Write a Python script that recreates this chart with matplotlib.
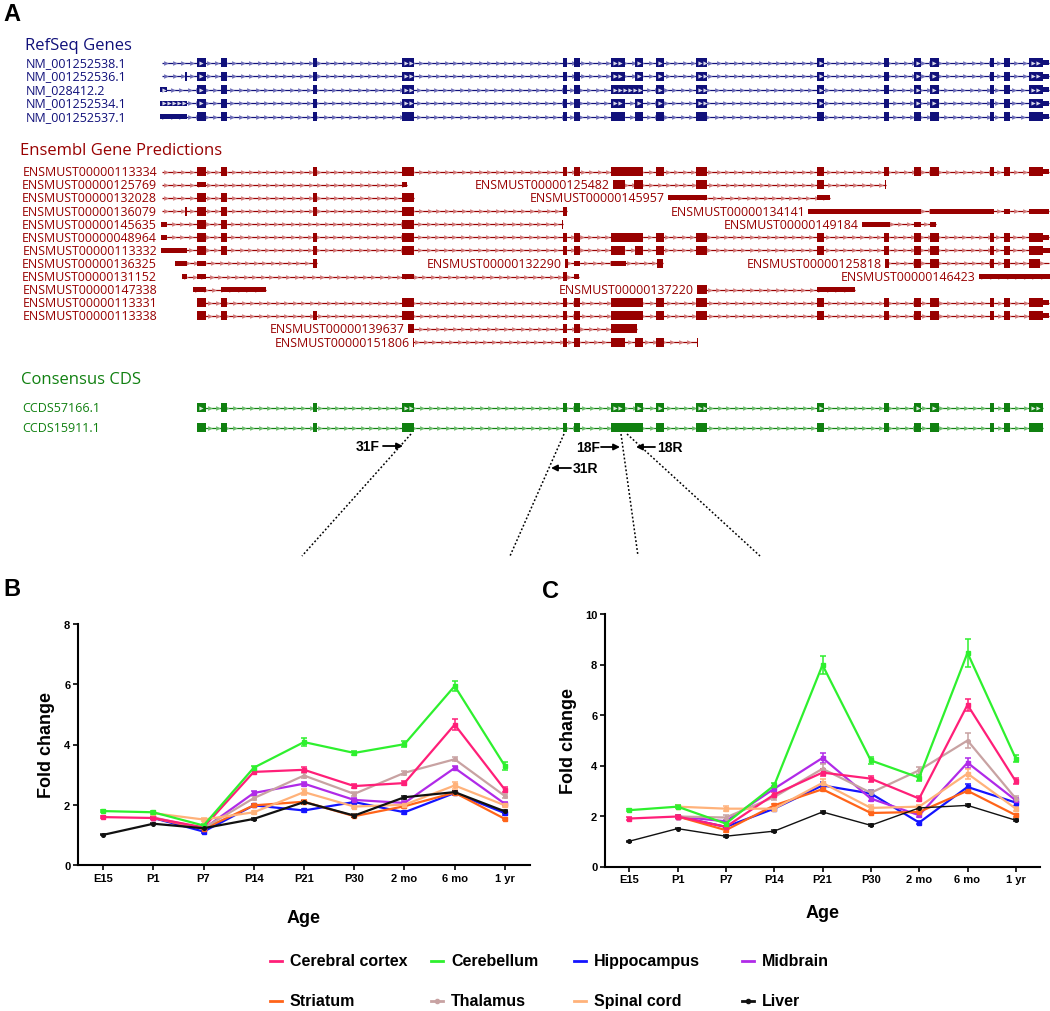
import numpy as np
import matplotlib.pyplot as plt

plt.rcParams['font.family'] = ['Liberation Sans', 'DejaVu Sans']

# ---------------- panel A : genome browser tracks (locus positions in px) ----------------
ex_a = [(197, 206, 'c'), (221, 227, 'c'), (313, 317, 'c'), (402, 414, 'c')]
ex_b = [(563, 567, 'c'), (574, 580, 'c')]
ex_split = [(611, 625, 'c'), (635, 643, 'c')]
ex_join = [(611, 643, 'c')]
ex_c = [(656, 664, 'c'), (696, 707, 'c'), (817, 824, 'c'), (884, 889, 'c'), (914, 921, 'c'),
        (930, 939, 'c'), (990, 994, 'c'), (1004, 1010, 'c'), (1029, 1043, 'c')]
stub = [(1043, 1049, 'u')]

refseq_names = ['NM_001252538.1', 'NM_001252536.1', 'NM_028412.2', 'NM_001252534.1', 'NM_001252537.1']
refseq_spans = [(162, 1049), (162, 1049), (160, 1049), (160, 1049), (160, 1049)]
refseq_exons = [
    ex_a + ex_b + ex_split + ex_c + stub,
    [(185, 187, 'c')] + ex_a + ex_b + ex_split + ex_c + stub,
    [(160, 167, 'u')] + ex_a + ex_b + ex_join + ex_c + stub,
    [(160, 187, 'u')] + ex_a + ex_b + ex_split + ex_c + stub,
    [(160, 187, 'u')] + ex_a + ex_b + ex_split + ex_c + stub,
]
refseq_chev = [True, True, True, True, False]

ens_names = ['ENSMUST00000113334', 'ENSMUST00000125769', 'ENSMUST00000132028', 'ENSMUST00000136079',
             'ENSMUST00000145635', 'ENSMUST00000048964', 'ENSMUST00000113332', 'ENSMUST00000136325',
             'ENSMUST00000131152', 'ENSMUST00000147338', 'ENSMUST00000113331', 'ENSMUST00000113338']
ens_rows = [
    [(None, 162, 1049, ex_a + ex_b + ex_join + ex_c + stub)],
    [(None, 162, 407, [(197, 206, 'u'), (402, 407, 'u')]),
     ('ENSMUST00000125482', 613, 886, [(613, 625, 'c'), (634, 643, 'c'), (696, 707, 'c'), (817, 824, 'c'), (885, 886, 'c')])],
    [(None, 162, 414, ex_a),
     ('ENSMUST00000145957', 668, 830, [(668, 707, 'u'), (817, 830, 'u')])],
    [(None, 162, 567, [(185, 187, 'c')] + ex_a + [(563, 567, 'c')]),
     ('ENSMUST00000134141', 808, 1049, [(808, 921, 'u'), (930, 994, 'u'), (1004, 1010, 'u'), (1029, 1049, 'u')])],
    [(None, 161, 563, [(161, 167, 'u'), (197, 206, 'c'), (221, 227, 'c'), (402, 414, 'c'), (562, 563, 'c')]),
     ('ENSMUST00000149184', 862, 936, [(862, 890, 'u'), (914, 921, 'u'), (930, 936, 'u')])],
    [(None, 161, 1049, [(161, 167, 'u')] + ex_a + ex_b + ex_join + ex_c + stub)],
    [(None, 161, 1051, [(161, 187, 'u')] + ex_a + ex_b + ex_split + ex_c + [(1043, 1051, 'u')])],
    [(None, 175, 317, [(175, 187, 'u'), (197, 206, 'u'), (313, 317, 'c')]),
     ('ENSMUST00000132290', 565, 663, [(565, 568, 'c'), (574, 580, 'u'), (611, 626, 'u'), (657, 663, 'c')]),
     ('ENSMUST00000125818', 885, 1049, [(885, 889, 'c'), (914, 921, 'c'), (930, 939, 'c'), (990, 994, 'c'),
                                         (1004, 1010, 'c'), (1029, 1040, 'c')])],
    [(None, 182, 579, [(182, 187, 'u'), (197, 206, 'u'), (402, 414, 'u'), (563, 567, 'c'), (574, 579, 'u')]),
     ('ENSMUST00000146423', 979, 1050, [(979, 1050, 'u')])],
    [(None, 193, 266, [(193, 206, 'u'), (221, 266, 'u')]),
     ('ENSMUST00000137220', 697, 855, [(697, 707, 'c'), (817, 855, 'u')])],
    [(None, 197, 1049, [(197, 206, 'c'), (221, 227, 'c'), (402, 414, 'c')] + ex_b + ex_join + ex_c + stub)],
    [(None, 197, 1049, ex_a + ex_b + ex_join + ex_c + stub)],
    [('ENSMUST00000139637', 408, 637, [(408, 414, 'c'), (563, 567, 'c'), (574, 580, 'c'), (611, 637, 'c')])],
    [('ENSMUST00000151806', 413, 697, [(413, 414, 'c'), (563, 567, 'c'), (574, 580, 'c'), (611, 625, 'c'),
                                        (635, 643, 'c'), (656, 664, 'c'), (697, 698, 'c')])],
]

ccds_names = ['CCDS57166.1', 'CCDS15911.1']
ccds_spans = [(197, 1043), (197, 1043)]
ccds_exons = [ex_a + ex_b + ex_split + ex_c, ex_a + ex_b + ex_join + ex_c]
ccds_chev = [True, False]

# primer sites on the locus and where their guides land above the panels
primer_names = ['31F', '31R', '18F', '18R']
primer_site = [411, 564, 621, 627]
guide_end = [302, 510, 638, 760]

# ---------------- panels B and C : qPCR fold change ----------------
ages = ['E15', 'P1', 'P7', 'P14', 'P21', 'P30', '2 mo', '6 mo', '1 yr']
tissues = ['Cerebral cortex', 'Cerebellum', 'Hippocampus', 'Midbrain',
           'Striatum', 'Thalamus', 'Spinal cord', 'Liver']
nan = np.nan

b_cortex = [1.59, 1.56, 1.25, 3.09, 3.16, 2.62, 2.72, 4.66, 2.50]
b_cerebellum = [1.79, 1.75, 1.31, 3.23, 4.08, 3.72, 4.01, 5.94, 3.29]
b_hippocampus = [nan, 1.56, 1.11, 1.98, 1.81, 2.09, 1.75, 2.39, 1.72]
b_midbrain = [nan, 1.56, 1.20, 2.39, 2.70, 2.16, 2.06, 3.22, 2.03]
b_striatum = [nan, 1.56, 1.20, 1.98, 2.10, 1.62, 1.95, 2.40, 1.53]
b_thalamus = [nan, 1.58, 1.22, 2.22, 2.97, 2.36, 3.06, 3.51, 2.29]
b_spinal = [nan, 1.72, 1.51, 1.75, 2.42, 1.94, 2.00, 2.64, 1.98]
b_liver = [1.00, 1.37, 1.22, 1.53, 2.09, 1.64, 2.25, 2.42, 1.78]

b_err_cortex = [0.03, 0.04, 0.05, 0.06, 0.08, 0.06, 0.08, 0.17, 0.08]
b_err_cerebellum = [0.03, 0.05, 0.05, 0.06, 0.12, 0.08, 0.10, 0.17, 0.12]
b_err_hippocampus = [nan, 0.04, 0.04, 0.05, 0.05, 0.05, 0.05, 0.06, 0.05]
b_err_midbrain = [nan, 0.04, 0.04, 0.06, 0.07, 0.05, 0.05, 0.08, 0.05]
b_err_striatum = [nan, 0.04, 0.04, 0.05, 0.05, 0.04, 0.05, 0.06, 0.04]
b_err_thalamus = [nan, 0.04, 0.04, 0.06, 0.08, 0.06, 0.06, 0.06, 0.06]
b_err_spinal = [nan, 0.04, 0.06, 0.05, 0.10, 0.05, 0.05, 0.12, 0.06]
b_err_liver = [0.02, 0.02, 0.03, 0.03, 0.05, 0.04, 0.05, 0.05, 0.04]

c_cortex = [1.90, 1.98, 1.57, 2.85, 3.72, 3.48, 2.69, 6.40, 3.37]
c_cerebellum = [2.23, 2.37, 1.70, 3.21, 7.98, 4.20, 3.52, 8.46, 4.27]
c_hippocampus = [nan, 1.98, 1.57, 2.29, 3.21, 2.89, 1.74, 3.15, 2.53]
c_midbrain = [nan, 1.98, 1.79, 3.08, 4.30, 2.69, 2.03, 4.11, 2.62]
c_striatum = [nan, 1.98, 1.44, 2.42, 3.06, 2.12, 2.16, 3.00, 2.03]
c_thalamus = [nan, 1.98, 1.94, 2.75, 3.87, 2.92, 3.81, 4.99, 2.69]
c_spinal = [nan, 2.37, 2.29, 2.29, 3.31, 2.32, 2.37, 3.68, 2.29]
c_liver = [1.00, 1.50, 1.20, 1.40, 2.16, 1.63, 2.32, 2.42, 1.83]

c_err_cortex = [0.06, 0.06, 0.05, 0.10, 0.15, 0.12, 0.10, 0.25, 0.12]
c_err_cerebellum = [0.05, 0.06, 0.08, 0.10, 0.35, 0.15, 0.12, 0.55, 0.15]
c_err_hippocampus = [nan, 0.05, 0.05, 0.08, 0.12, 0.12, 0.06, 0.12, 0.12]
c_err_midbrain = [nan, 0.05, 0.05, 0.10, 0.20, 0.10, 0.08, 0.20, 0.08]
c_err_striatum = [nan, 0.05, 0.06, 0.06, 0.08, 0.06, 0.06, 0.08, 0.06]
c_err_thalamus = [nan, 0.05, 0.08, 0.10, 0.20, 0.10, 0.15, 0.30, 0.10]
c_err_spinal = [nan, 0.05, 0.10, 0.08, 0.15, 0.10, 0.08, 0.20, 0.08]
c_err_liver = [0.02, 0.03, 0.03, 0.03, 0.04, 0.04, 0.04, 0.04, 0.04]

colors = ['#ff1f78', '#2ef02e', '#1414ff', '#b02ae8', '#ff6419', '#c8a2a2', '#ffb27a', '#111111']
markers = ['s', 's', 's', 's', 's', 'o', 's', 'o']

# ---------------- figure ----------------
fig = plt.figure(figsize=(10.5, 10.12), dpi=100)
ax0 = fig.add_axes([0, 0, 1, 1])
ax0.set_xlim(0, 1050)
ax0.set_ylim(1012, 0)
ax0.axis('off')

track_font = ['Open Sans', 'DejaVu Sans']


def draw_track(y, x0, x1, exons, col, light, chev):
    ax0.hlines(y, x0, x1, color=col, lw=0.9, zorder=2)
    xs = np.arange(x0 + 4, x1 - 2, 8.5)
    ax0.plot(xs, np.full(len(xs), y), ls='none', marker='>', ms=3.4, mew=0, color=light, zorder=2.5)
    for s, e, k in exons:
        h = 9 if k == 'c' else 5
        ax0.broken_barh([(s, max(e - s, 1.2))], (y - h / 2, h), facecolors=col, zorder=3)
        if chev and e - s >= 7:
            cx = np.arange(s + 3.5, e - 2, 5)
            ax0.plot(cx, np.full(len(cx), y), ls='none', marker='>', ms=3.0, mew=0,
                     color='white', alpha=0.85, zorder=4)


navy, navy_l = '#10107a', '#6e6eb8'
red, red_l = '#980000', '#d27a7a'
green, green_l = '#108010', '#6cbc6c'

ax0.text(3, 14, 'A', fontsize=17, fontweight='bold', va='center')

ax0.text(25, 46, 'RefSeq Genes', color=navy, fontsize=12, va='center', family=track_font)
for i, name in enumerate(refseq_names):
    y = 63.5 + 13.5 * i
    ax0.text(26, y, name, color=navy, fontsize=9, va='center', family=track_font)
    draw_track(y, *refseq_spans[i], refseq_exons[i], navy, navy_l, refseq_chev[i])

ax0.text(20, 151, 'Ensembl Gene Predictions', color=red, fontsize=12, va='center', family=track_font)
for i, row in enumerate(ens_rows):
    y = 172.7 + 13.1 * i
    if i < len(ens_names):
        ax0.text(157, y, ens_names[i], color=red, fontsize=8.9, va='center', ha='right', family=track_font)
    for label, x0, x1, exons in row:
        if label:
            ax0.text(x0 - 3, y, label, color=red, fontsize=8.9, va='center', ha='right', family=track_font)
        draw_track(y, x0, x1, exons, red, red_l, False)

ax0.text(21, 380, 'Consensus CDS', color=green, fontsize=12, va='center', family=track_font)
for i, name in enumerate(ccds_names):
    y = 408.5 + 20 * i
    ax0.text(22, y, name, color=green, fontsize=9, va='center', family=track_font)
    draw_track(y, *ccds_spans[i], ccds_exons[i], green, green_l, ccds_chev[i])

# primers and dotted guides towards the qPCR panels
for site, end in zip(primer_site, guide_end):
    ax0.plot([site, end], [435, 557], color='k', lw=1.1, ls=(0, (1.2, 1.4)))
arrow = dict(arrowstyle='-|>', color='k', lw=1.3, mutation_scale=9, shrinkA=0, shrinkB=0)
ax0.annotate('', xy=(403, 447), xytext=(383, 447), arrowprops=arrow)
ax0.text(380, 447, primer_names[0], fontsize=10, fontweight='bold', ha='right', va='center')
ax0.annotate('', xy=(551, 469), xytext=(571, 469), arrowprops=arrow)
ax0.text(573, 469, primer_names[1], fontsize=10, fontweight='bold', ha='left', va='center')
ax0.annotate('', xy=(620, 448), xytext=(601, 448), arrowprops=arrow)
ax0.text(600, 448, primer_names[2], fontsize=10, fontweight='bold', ha='right', va='center')
ax0.annotate('', xy=(636, 448), xytext=(655, 448), arrowprops=arrow)
ax0.text(657, 448, primer_names[3], fontsize=10, fontweight='bold', ha='left', va='center')

ax0.text(3, 589, 'B', fontsize=17, fontweight='bold', va='center')
ax0.text(542, 592, 'C', fontsize=17, fontweight='bold', va='center')

b_vals = [b_cortex, b_cerebellum, b_hippocampus, b_midbrain, b_striatum, b_thalamus, b_spinal, b_liver]
b_errs = [b_err_cortex, b_err_cerebellum, b_err_hippocampus, b_err_midbrain,
          b_err_striatum, b_err_thalamus, b_err_spinal, b_err_liver]
c_vals = [c_cortex, c_cerebellum, c_hippocampus, c_midbrain, c_striatum, c_thalamus, c_spinal, c_liver]
c_errs = [c_err_cortex, c_err_cerebellum, c_err_hippocampus, c_err_midbrain,
          c_err_striatum, c_err_thalamus, c_err_spinal, c_err_liver]

order = [2, 3, 4, 5, 0, 6, 1, 7]
x = np.arange(len(ages))

axB = fig.add_axes([78 / 1050, 1 - 866 / 1012, 452 / 1050, 241 / 1012])
axC = fig.add_axes([605 / 1050, 1 - 867.5 / 1012, 435 / 1050, 252.5 / 1012])

for ax, vals, errs, ymax, ylab_x, xlab_y in [(axB, b_vals, b_errs, 8, -0.05, -0.183),
                                             (axC, c_vals, c_errs, 10, -0.065, -0.15)]:
    for k in order:
        lw = 1.0 if k == 7 and ax is axC else 1.6
        ax.errorbar(x, vals[k], yerr=errs[k], color=colors[k], lw=lw, marker=markers[k], ms=2.6,
                    elinewidth=1.1, capsize=2.0, capthick=1.1)
    ax.set_xlim(-0.5, 8.5)
    ax.set_ylim(0, ymax)
    ax.set_yticks(np.arange(0, ymax + 1, 2))
    ax.set_xticks(x, ages)
    for s in ['top', 'right']:
        ax.spines[s].set_visible(False)
    for s in ['left', 'bottom']:
        ax.spines[s].set_linewidth(1.5)
    ax.tick_params(direction='out', length=3.5, width=1.2, labelsize=8, pad=2)
    for lbl in ax.get_xticklabels() + ax.get_yticklabels():
        lbl.set_fontweight('bold')
    ax.set_ylabel('Fold change', fontsize=13, fontweight='bold')
    ax.yaxis.set_label_coords(ylab_x, 0.5)
    ax.set_xlabel('Age', fontsize=13, fontweight='bold')
    ax.xaxis.set_label_coords(0.5, xlab_y)

# legend, laid out as in the figure
leg_x = [276, 437, 580, 748]
leg_y = [962, 1002]
for k, name in enumerate(tissues):
    hx, hy = leg_x[k % 4], leg_y[k // 4]
    ax0.plot([hx - 6, hx + 6], [hy, hy], color=colors[k], lw=2)
    if markers[k] == 'o':
        ax0.plot([hx], [hy], marker='o', ms=3, color=colors[k])
    ax0.text(hx + 14, hy, name, fontsize=11.5, fontweight='bold', va='center')

fig.savefig('out.png', dpi=100)
